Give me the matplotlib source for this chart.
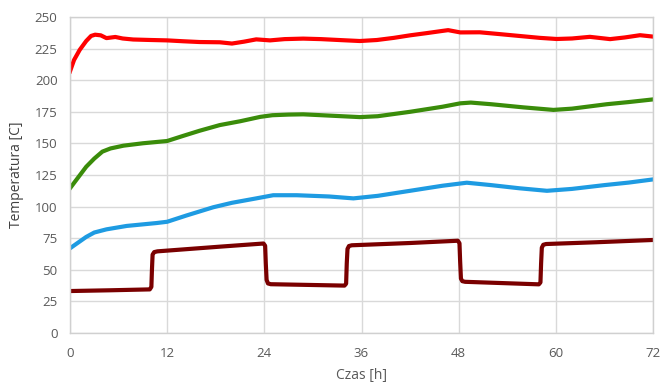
import matplotlib
matplotlib.use("Agg")
import matplotlib.pyplot as plt

plt.rcParams['font.family'] = ['Open Sans', 'DejaVu Sans']

# Red series
t_red = [0, 0.5, 1.2, 2, 2.6, 3.1, 3.8, 4.5, 5.6, 6.5, 7.8, 10, 12, 14, 16, 18.5, 20, 21.5, 23, 24.7,
         26.5, 28.8, 31, 33.5, 35.8, 37.9, 40, 42, 44, 46, 46.7, 48.2, 50.6, 53, 55.5, 58, 60.1, 62,
         64.2, 66.7, 68.5, 70.4, 72]
v_red = [207, 216, 224, 231, 235, 236, 235.5, 233.3, 234.2, 233, 232.2, 231.8, 231.5, 230.8, 230.2, 230,
         229, 230.5, 232.3, 231.5, 232.5, 232.9, 232.5, 231.7, 231, 231.8, 233.5, 235.5, 237.2, 239,
         239.6, 237.8, 237.9, 236.5, 235, 233.5, 232.6, 233, 234.3, 232.5, 233.8, 235.6, 234.5]

# Green series
t_green = [0, 1, 2, 3, 4, 5, 6.6, 9, 12, 14, 16, 18.5, 21, 23.5, 25, 27, 28.8, 32, 35.8, 38, 42, 46,
           48.2, 49.5, 52, 56, 59.7, 62, 66.3, 69, 72]
v_green = [114.5, 123, 131.5, 138, 143.5, 146, 148.2, 150.1, 151.9, 156, 160, 164.5, 167.5, 171, 172.3,
           172.8, 173, 172, 170.8, 171.5, 175, 179, 181.7, 182.3, 181, 178.5, 176.5, 177.5, 181, 182.7, 184.8]

# Blue series
t_blue = [0, 1, 2, 3, 4.5, 7, 10.7, 12, 14.4, 17.7, 20, 23, 25.1, 28, 32, 35, 38, 42, 46, 49, 52, 55.5,
          58.9, 62, 66, 69, 72]
v_blue = [67, 71.5, 76, 79.5, 82, 84.7, 87, 88, 93, 99.5, 103, 106.5, 109, 109, 108, 106.5, 108.5, 112.5,
          116.5, 118.9, 117, 114.5, 112.5, 114, 117, 119, 121.5]

# Maroon series
t_maroon = [0, 5, 9.85, 10.05, 10.12, 10.2, 10.4, 10.8, 18.5,
            23.9, 24.1, 24.18, 24.28, 24.45, 24.8,
            33.9, 34.1, 34.18, 34.27, 34.45, 34.8, 42,
            47.9, 48.1, 48.18, 48.28, 48.45, 48.8,
            57.9, 58.1, 58.18, 58.27, 58.45, 58.8, 65, 72]
v_maroon = [33.2, 33.8, 34.5, 36.5, 50, 62, 64, 64.6, 68.3,
            70.8, 69, 55, 42, 39.2, 38.6,
            37.5, 39, 55, 66.5, 68.8, 69.4, 71.2,
            73, 71, 57, 43, 41, 40.5,
            38.5, 40, 55, 67.5, 69.8, 70.4, 71.8, 73.6]

x_ticks = [0, 12, 24, 36, 48, 60, 72]
y_ticks = [0, 25, 50, 75, 100, 125, 150, 175, 200, 225, 250]

fig = plt.figure(figsize=(6.62, 3.85), dpi=100)
ax = fig.add_axes([70/662, 1-333/385, (653-70)/662, (333-17)/385])

lw = 3.0
ax.plot(t_maroon, v_maroon, color='#7A0000', lw=lw, solid_joinstyle='round', solid_capstyle='round')
ax.plot(t_blue, v_blue, color='#1E9BE2', lw=lw, solid_joinstyle='round')
ax.plot(t_green, v_green, color='#3A8C0A', lw=lw, solid_joinstyle='round')
ax.plot(t_red, v_red, color='#FF0000', lw=lw, solid_joinstyle='round')

ax.set_xlim(0, 72)
ax.set_ylim(0, 250)
ax.set_xticks(x_ticks)
ax.set_yticks(y_ticks)
ax.grid(True, color='#D9D9D9', lw=1.0)
ax.set_axisbelow(True)
for s in ax.spines.values():
    s.set_color('#D0D0D0')
    s.set_linewidth(1.0)
ax.tick_params(length=0, labelsize=9.5, labelcolor='#595959', pad=9)
ax.tick_params(axis='x', pad=10)
ax.set_xlabel('Czas [h]', fontsize=10, color='#595959', labelpad=6)
ax.set_ylabel('Temperatura [C]', fontsize=10, color='#404040', labelpad=8)

fig.savefig('out.png', dpi=100)
